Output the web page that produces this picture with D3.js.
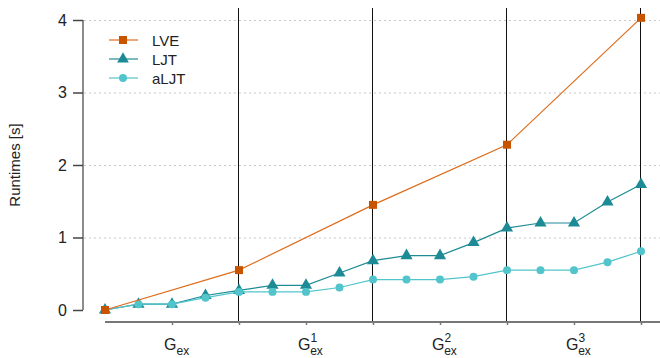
<!DOCTYPE html>
<html>
<head>
<meta charset="utf-8">
<script src="https://cdn.jsdelivr.net/npm/d3@7"></script>
<style>
  body { margin: 0; background: #fff; }
  svg { display: block; font-family: "Liberation Sans", Arial, sans-serif; }
</style>
</head>
<body>
<svg width="660" height="358"></svg>
<script>
// runtimes per step, 17 steps split into 4 groups
const steps = d3.range(17);
const lveSteps = [0, 4, 8, 12, 16];
const lveValues = [0, 0.55, 1.45, 2.28, 4.03];
const ljtValues = [0, 0.08, 0.08, 0.2, 0.27, 0.34, 0.34, 0.51, 0.68, 0.75, 0.75, 0.93, 1.13, 1.2, 1.2, 1.49, 1.73];
const aljtValues = [0, 0.08, 0.08, 0.17, 0.25, 0.25, 0.25, 0.31, 0.42, 0.42, 0.42, 0.46, 0.55, 0.55, 0.55, 0.66, 0.81];
const yTicks = [0, 1, 2, 3, 4];
const groupLabels = ["", "1", "2", "3"];
const groupMids = [2, 6, 10, 14];
const groupEdges = [4, 8, 12, 16];

const svg = d3.select('svg');

const x = d3.scaleLinear().domain([0, 16]).range([105, 641]);
const y = d3.scaleLinear().domain([0, 4]).range([310, 20]);

const colLVE = '#c85400', lineLVE = '#dd6c1c';
const colLJT = '#1d8b95';
const colALJT = '#52c5cc';

// dotted grid
svg.append('g')
  .selectAll('line')
  .data(yTicks.filter(d => d > 0))
  .enter().append('line')
    .attr('x1', 84).attr('x2', 660)
    .attr('y1', d => y(d) + 0.5).attr('y2', d => y(d) + 0.5)
    .attr('stroke', '#c8c8c8')
    .attr('stroke-width', 1)
    .attr('stroke-dasharray', '2,3');

// group separators
svg.append('g')
  .selectAll('line')
  .data(groupEdges)
  .enter().append('line')
    .attr('x1', d => Math.round(x(d)) - 0.5).attr('x2', d => Math.round(x(d)) - 0.5)
    .attr('y1', 8).attr('y2', 322)
    .attr('stroke', '#111')
    .attr('stroke-width', 1);

// y axis
const yAxis = svg.append('g')
  .attr('transform', 'translate(83,0)')
  .call(d3.axisLeft(y).tickValues(yTicks).tickSize(10).tickPadding(6).tickFormat(d3.format('d')));
yAxis.select('.domain').attr('stroke', '#666').attr('stroke-width', 1.5).attr('d', `M-0,${y(4)}V${y(0)}`);
yAxis.selectAll('.tick line').attr('stroke', '#444').attr('stroke-width', 1.5);
yAxis.selectAll('.tick text').attr('font-size', 16).attr('fill', '#222')
  .attr('font-family', '"Liberation Sans", Arial, sans-serif');

svg.append('text')
  .attr('transform', 'translate(20,165) rotate(-90)')
  .attr('text-anchor', 'middle')
  .attr('font-size', 15)
  .attr('fill', '#222')
  .text('Runtimes [s]');

// x axis
const xAxis = svg.append('g')
  .attr('transform', 'translate(0,322)')
  .call(d3.axisBottom(x).tickValues(groupMids.concat(groupEdges)).tickSize(3).tickFormat(''));
xAxis.select('.domain').attr('stroke', '#777').attr('stroke-width', 2).attr('d', `M${x(0)},0H660`);
xAxis.selectAll('.tick line').attr('stroke', '#777').attr('stroke-width', 1.5);

const xl = svg.append('g').selectAll('text')
  .data(groupLabels)
  .enter().append('text')
    .attr('x', (d, i) => x(groupMids[i]) - 8)
    .attr('y', 350)
    .attr('font-size', 16)
    .attr('fill', '#222');
xl.append('tspan').text('G');
xl.append('tspan').attr('font-size', 12).attr('dx', 0).attr('dy', -8).text(d => d);
xl.append('tspan').attr('font-size', 12)
  .attr('dx', d => d ? -7 : 0)
  .attr('dy', d => d ? 13 : 5)
  .text('ex');

// lines
const line = d3.line().x(d => x(d[0])).y(d => y(d[1]));

function drawSeries(xs, vals, stroke, fill, shape, size) {
  const pts = xs.map((s, i) => [s, vals[i]]);
  const g = svg.append('g');
  g.append('path').datum(pts)
    .attr('d', line)
    .attr('fill', 'none')
    .attr('stroke', stroke)
    .attr('stroke-width', 1.2);
  g.selectAll('path.m')
    .data(pts)
    .enter().append('path')
      .attr('class', 'm')
      .attr('transform', d => `translate(${x(d[0])},${y(d[1])})`)
      .attr('d', d3.symbol().type(shape).size(size))
      .attr('fill', fill);
}

drawSeries(steps, ljtValues, colLJT, colLJT, d3.symbolTriangle, 64);
drawSeries(steps, aljtValues, colALJT, colALJT, d3.symbolCircle, 50);
drawSeries(lveSteps, lveValues, lineLVE, colLVE, d3.symbolSquare, 64);

// legend
const legendNames = ['LVE', 'LJT', 'aLJT'];
const legendLine = [lineLVE, colLJT, colALJT];
const legendFill = [colLVE, colLJT, colALJT];
const legendShape = [d3.symbolSquare, d3.symbolTriangle, d3.symbolCircle];
const legendSize = [64, 60, 50];
const leg = svg.append('g').selectAll('g')
  .data(legendNames)
  .enter().append('g')
    .attr('transform', (d, i) => `translate(0,${40 + i * 19})`);
leg.append('line')
  .attr('x1', 109).attr('x2', 138)
  .attr('stroke', (d, i) => legendLine[i]).attr('stroke-width', 1.2);
leg.append('path')
  .attr('transform', 'translate(123,0)')
  .attr('d', (d, i) => d3.symbol().type(legendShape[i]).size(legendSize[i])())
  .attr('fill', (d, i) => legendFill[i]);
leg.append('text')
  .attr('x', 152).attr('y', 5.5)
  .attr('font-size', 15)
  .attr('fill', '#222')
  .text(d => d);
</script>
</body>
</html>
